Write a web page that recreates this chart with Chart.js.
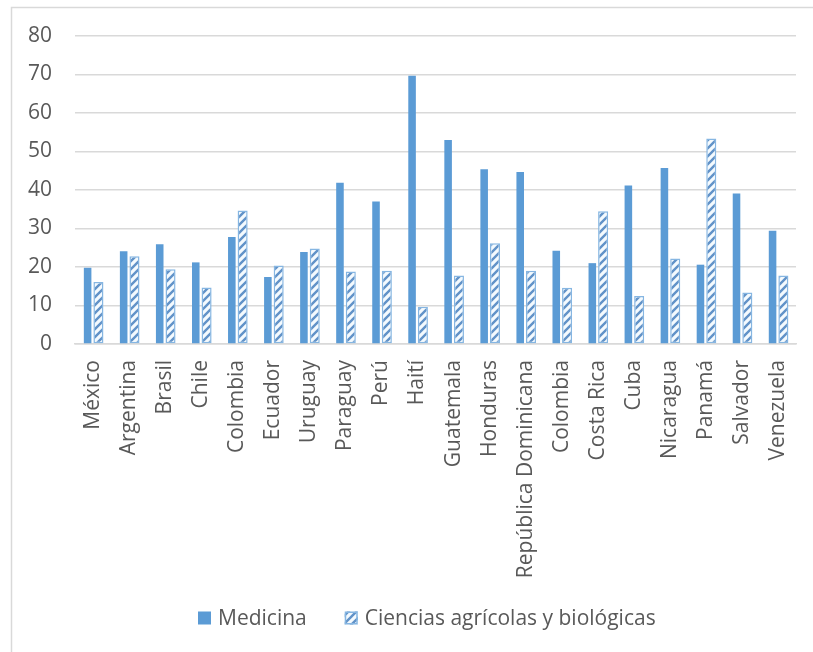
<!DOCTYPE html>
<html>
<head>
<meta charset="utf-8">
<script src="https://cdn.jsdelivr.net/npm/chart.js@4.4.1/dist/chart.umd.min.js"></script>
<style>
  html, body { margin: 0; padding: 0; background: #ffffff; }
  #wrap { width: 813px; height: 652px; }
</style>
</head>
<body>
<div id="wrap"><canvas id="chart" width="813" height="652"></canvas></div>
<script>
// Country categories (Colombia appears twice in the source table)
const categories = [
  'México', 'Argentina', 'Brasil', 'Chile', 'Colombia', 'Ecuador', 'Uruguay',
  'Paraguay', 'Perú', 'Haití', 'Guatemala', 'Honduras', 'República Dominicana',
  'Colombia', 'Costa Rica', 'Cuba', 'Nicaragua', 'Panamá', 'Salvador', 'Venezuela'
];

const medicina = [
  19.8, 24.1, 25.9, 21.2, 27.8, 17.4, 23.9, 41.9, 37.0, 69.7,
  53.0, 45.4, 44.7, 24.2, 21.0, 41.2, 45.7, 20.6, 39.1, 29.4
];

const cienciasAgricolas = [
  16.1, 22.8, 19.4, 14.7, 34.7, 20.4, 24.8, 18.8, 19.0, 9.7,
  17.8, 26.2, 19.0, 14.6, 34.5, 12.5, 22.2, 53.4, 13.4, 17.8
];

const seriesNames = ['Medicina', 'Ciencias agrícolas y biológicas'];
const yTicks = { min: 0, max: 80, step: 10 };

const TEXT = '#595959';
const GRID = '#D9D9D9';
const BLUE = '#5B9BD5';
const FONT = '"Open Sans", sans-serif';
const FONT_SIZE = 21;

// Upward diagonal hatch used for the second series
function makeHatch() {
  const c = document.createElement('canvas');
  c.width = 8; c.height = 8;
  const g = c.getContext('2d');
  g.fillStyle = '#F4FAFE';
  g.fillRect(0, 0, 8, 8);
  g.strokeStyle = '#6192C8';
  g.lineWidth = 2.4;
  g.lineCap = 'square';
  g.beginPath();
  g.moveTo(0, 8); g.lineTo(8, 0);
  g.moveTo(-2, 2); g.lineTo(2, -2);
  g.moveTo(6, 10); g.lineTo(10, 6);
  g.stroke();
  return g.createPattern(c, 'repeat');
}

const ctx = document.getElementById('chart').getContext('2d');
const hatch = makeHatch();

Chart.defaults.font.family = FONT;
Chart.defaults.font.size = FONT_SIZE;
Chart.defaults.color = TEXT;

// Light outer frame of the chart object
const frame = {
  id: 'frame',
  beforeDraw(chart) {
    const c = chart.ctx;
    c.save();
    c.strokeStyle = GRID;
    c.lineWidth = 1.5;
    c.strokeRect(11.5, 7.5, chart.width + 20, chart.height + 20);
    c.restore();
  }
};

// Single-row legend below the category labels, built from the datasets
const bottomLegend = {
  id: 'bottomLegend',
  afterDraw(chart) {
    const c = chart.ctx;
    const box = 13, gapText = 7, gapItem = 38;
    c.save();
    c.font = FONT_SIZE + 'px ' + FONT;
    c.textBaseline = 'middle';
    c.textAlign = 'left';
    const items = chart.data.datasets.map(ds => ({
      ds, w: c.measureText(ds.label).width
    }));
    const total = items.reduce((s, it) => s + box + gapText + it.w, 0) + gapItem * (items.length - 1);
    let x = Math.round(chart.width / 2 + 20 - total / 2);
    const y = chart.height - 34;
    items.forEach(it => {
      c.fillStyle = it.ds.backgroundColor;
      c.fillRect(x, y - box / 2, box, box);
      if (it.ds.borderWidth) {
        c.strokeStyle = it.ds.borderColor;
        c.lineWidth = it.ds.borderWidth;
        c.strokeRect(x + 0.75, y - box / 2 + 0.75, box - 1.5, box - 1.5);
      }
      c.fillStyle = TEXT;
      c.fillText(it.ds.label, x + box + gapText, y + 1);
      x += box + gapText + it.w + gapItem;
    });
    c.restore();
  }
};

new Chart(ctx, {
  type: 'bar',
  data: {
    labels: categories,
    datasets: [
      {
        label: seriesNames[0],
        data: medicina,
        backgroundColor: BLUE,
        borderWidth: 0,
        barPercentage: 0.7,
        categoryPercentage: 0.6
      },
      {
        label: seriesNames[1],
        data: cienciasAgricolas,
        backgroundColor: hatch,
        borderColor: '#86B6E2',
        borderWidth: 1.5,
        borderSkipped: false,
        barPercentage: 0.93,
        categoryPercentage: 0.6
      }
    ]
  },
  options: {
    responsive: false,
    animation: false,
    layout: { padding: { left: 11, right: 17, top: 36, bottom: 52 } },
    plugins: {
      tooltip: { enabled: false },
      legend: { display: false }
    },
    scales: {
      x: {
        grid: { display: false, drawTicks: false },
        border: { display: true, color: GRID, width: 1.5 },
        ticks: {
          autoSkip: false,
          maxRotation: 90,
          minRotation: 90,
          padding: 16,
          color: TEXT
        },
        afterFit(scale) {
          scale.height = 256;
          scale.paddingLeft = 0;
          scale.paddingRight = 0;
        }
      },
      y: {
        min: yTicks.min,
        max: yTicks.max,
        grid: { color: GRID, lineWidth: 1.5, drawTicks: false },
        border: { display: false },
        ticks: { stepSize: yTicks.step, padding: 23, color: TEXT },
        afterFit(scale) { scale.width = 64; }
      }
    }
  },
  plugins: [frame, bottomLegend]
});
</script>
</body>
</html>
